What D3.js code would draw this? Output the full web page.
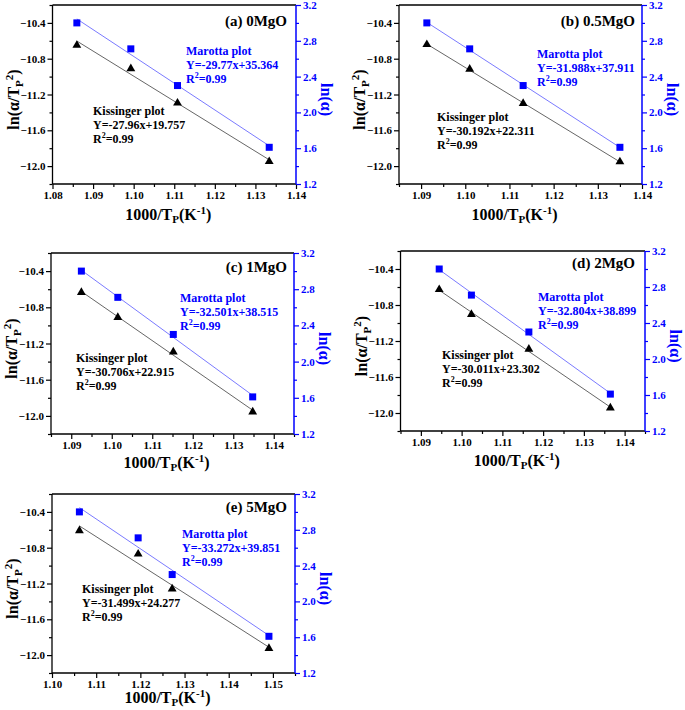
<!DOCTYPE html>
<html>
<head>
<meta charset="utf-8">
<script src="https://cdn.jsdelivr.net/npm/d3@7/dist/d3.min.js"></script>
<style>
  html, body { margin: 0; padding: 0; background: #fff; }
  svg { display: block; }
  text { font-family: "Liberation Serif", "Times New Roman", serif; font-weight: bold; }
</style>
</head>
<body>
<svg id="chart" width="685" height="710"></svg>
<script>
// ---------------- DATA ----------------
const panelLabels = ["(a) 0MgO", "(b) 0.5MgO", "(c) 1MgO", "(d) 2MgO", "(e) 5MgO"];

// 1000/Tp (K^-1) for heating rates 20, 15, 10, 5
const xValues = [
  [1.0860, 1.0993, 1.1108, 1.1334],
  [1.0913, 1.1010, 1.1131, 1.1350],
  [1.0925, 1.1015, 1.1152, 1.1348],
  [1.0945, 1.1024, 1.1165, 1.1365],
  [1.1062, 1.1195, 1.1272, 1.1491]
];

// Kissinger: ln(alpha/Tp^2)  (left axis)
const kissingerY = [
  [-10.650, -10.911, -11.295, -11.949],
  [-10.642, -10.917, -11.300, -11.952],
  [-10.636, -10.912, -11.293, -11.955],
  [-10.628, -10.905, -11.290, -11.944],
  [-10.609, -10.871, -11.260, -11.925]
];

// Marotta: ln(alpha)  (right axis)
const marottaY = [
  [3.00, 2.71, 2.30, 1.61],
  [3.00, 2.71, 2.30, 1.61],
  [3.00, 2.71, 2.30, 1.61],
  [3.00, 2.71, 2.30, 1.61],
  [3.00, 2.71, 2.30, 1.61]
];

const kissingerEq = ["Y=-27.96x+19.757", "Y=-30.192x+22.311", "Y=-30.706x+22.915", "Y=-30.011x+23.302", "Y=-31.499x+24.277"];
const marottaEq   = ["Y=-29.77x+35.364", "Y=-31.988x+37.911", "Y=-32.501x+38.515", "Y=-32.804x+38.899", "Y=-33.272x+39.851"];
const r2Value = "=0.99";

const xDomains = [[1.08, 1.14], [1.085, 1.14], [1.085, 1.145], [1.085, 1.145], [1.10, 1.155]];
const xTickLabels = [
  ["1.08", "1.09", "1.10", "1.11", "1.12", "1.13", "1.14"],
  ["1.09", "1.10", "1.11", "1.12", "1.13", "1.14"],
  ["1.09", "1.10", "1.11", "1.12", "1.13", "1.14"],
  ["1.09", "1.10", "1.11", "1.12", "1.13", "1.14"],
  ["1.10", "1.11", "1.12", "1.13", "1.14", "1.15"]
];
const leftDomain = [-12.2, -10.2];
const leftTickLabels = ["-10.4", "-10.8", "-11.2", "-11.6", "-12.0"];
const rightDomain = [1.2, 3.2];
const rightTickLabels = ["1.2", "1.6", "2.0", "2.4", "2.8", "3.2"];

// ---------------- LAYOUT ----------------
const layout = [
  { x0: 52.5, x1: 296, y0: 5,   y1: 184, title: [9, 21], mar: [133.5, 50], kis: [40.5, 110], xt: 36 },
  { x0: 399,  x1: 642, y0: 5,   y1: 184, title: [7, 21], mar: [138, 53],  kis: [38, 116], xt: 36 },
  { x0: 51,   x1: 294, y0: 253, y1: 434, title: [7, 19], mar: [129, 49],  kis: [25, 109], xt: 34 },
  { x0: 400.5,x1: 645, y0: 251, y1: 431, title: [10, 17], mar: [137.5, 50], kis: [41.5, 108], xt: 35 },
  { x0: 52,   x1: 295, y0: 494, y1: 673, title: [8, 18], mar: [130, 44],  kis: [30, 99], xt: 30 }
];
const BLUE = "#0000ff";
const svg = d3.select("#chart");

function regression(xs, ys) {
  const mx = d3.mean(xs), my = d3.mean(ys);
  let sxy = 0, sxx = 0;
  xs.forEach((x, i) => { sxy += (x - mx) * (ys[i] - my); sxx += (x - mx) * (x - mx); });
  const b = sxy / sxx;
  return { b, a: my - b * mx };
}

function range(a, b, step) {
  const out = [];
  const n = Math.round((b - a) / step);
  for (let i = 0; i <= n; i++) out.push(+(a + i * step).toFixed(4));
  return out;
}

panelLabels.forEach((label, p) => {
  const L = layout[p];
  const g = svg.append("g");
  const x = d3.scaleLinear().domain(xDomains[p]).range([L.x0, L.x1]);
  const yL = d3.scaleLinear().domain(leftDomain).range([L.y1, L.y0]);
  const yR = d3.scaleLinear().domain(rightDomain).range([L.y1, L.y0]);

  const xMajor = xTickLabels[p].map(Number);
  const xMinor = range(xDomains[p][0], xDomains[p][1], 0.005).filter(v => !xMajor.some(m => Math.abs(m - v) < 1e-6));
  const lMajor = leftTickLabels.map(Number);
  const lMinor = range(leftDomain[0], leftDomain[1], 0.2).filter(v => !lMajor.some(m => Math.abs(m - v) < 1e-6));
  const rMajor = rightTickLabels.map(Number);
  const rMinor = range(rightDomain[0], rightDomain[1], 0.2).filter(v => !rMajor.some(m => Math.abs(m - v) < 1e-6));

  // bottom axis
  g.append("g").attr("transform", `translate(0,${L.y1})`)
    .call(d3.axisBottom(x).tickValues(xMajor).tickSize(5).tickSizeOuter(0).tickPadding(2).tickFormat(d3.format(".2f")));
  g.append("g").attr("transform", `translate(0,${L.y1})`)
    .call(d3.axisBottom(x).tickValues(xMinor).tickSize(3).tickSizeOuter(0).tickFormat(""));
  // left axis
  g.append("g").attr("transform", `translate(${L.x0},0)`)
    .call(d3.axisLeft(yL).tickValues(lMajor).tickSize(5).tickSizeOuter(0).tickPadding(2).tickFormat(d3.format(".1f")));
  g.append("g").attr("transform", `translate(${L.x0},0)`)
    .call(d3.axisLeft(yL).tickValues(lMinor).tickSize(3).tickSizeOuter(0).tickFormat(""));
  // right axis
  const gr = g.append("g").attr("transform", `translate(${L.x1},0)`)
    .call(d3.axisRight(yR).tickValues(rMajor).tickSize(5).tickSizeOuter(0).tickPadding(2).tickFormat(d3.format(".1f")));
  const grm = g.append("g").attr("transform", `translate(${L.x1},0)`)
    .call(d3.axisRight(yR).tickValues(rMinor).tickSize(3).tickSizeOuter(0).tickFormat(""));

  g.selectAll(".domain").remove();
  g.selectAll(".tick line").attr("stroke", "#000").attr("stroke-width", 1.2);
  g.selectAll(".tick text").attr("font-size", 11).attr("fill", "#000")
    .style("font-family", "'Liberation Serif', serif").style("font-weight", "bold");
  gr.selectAll(".tick line").attr("stroke", BLUE);
  gr.selectAll(".tick text").attr("fill", BLUE);
  grm.selectAll(".tick line").attr("stroke", BLUE);

  // frame
  g.append("line").attr("x1", L.x0).attr("x2", L.x1).attr("y1", L.y0).attr("y2", L.y0).attr("stroke", "#000").attr("stroke-width", 1.3);
  g.append("line").attr("x1", L.x0).attr("x2", L.x1).attr("y1", L.y1).attr("y2", L.y1).attr("stroke", "#000").attr("stroke-width", 1.3);
  g.append("line").attr("x1", L.x0).attr("x2", L.x0).attr("y1", L.y0).attr("y2", L.y1).attr("stroke", "#000").attr("stroke-width", 1.3);
  g.append("line").attr("x1", L.x1).attr("x2", L.x1).attr("y1", L.y0).attr("y2", L.y1).attr("stroke", BLUE).attr("stroke-width", 1.5);

  // fit lines
  const xs = xValues[p];
  const xExt = d3.extent(xs);
  const fk = regression(xs, kissingerY[p]);
  const fm = regression(xs, marottaY[p]);
  g.append("line")
    .attr("x1", x(xExt[0])).attr("y1", yL(fk.a + fk.b * xExt[0]))
    .attr("x2", x(xExt[1])).attr("y2", yL(fk.a + fk.b * xExt[1]))
    .attr("stroke", "#555").attr("stroke-width", 0.9);
  g.append("line")
    .attr("x1", x(xExt[0])).attr("y1", yR(fm.a + fm.b * xExt[0]))
    .attr("x2", x(xExt[1])).attr("y2", yR(fm.a + fm.b * xExt[1]))
    .attr("stroke", "#6b6bff").attr("stroke-width", 0.9);

  // markers
  const tri = d3.symbol().type(d3.symbolTriangle).size(34);
  g.selectAll(".tri").data(xs.map((v, i) => [v, kissingerY[p][i]])).enter()
    .append("path").attr("d", tri)
    .attr("transform", d => `translate(${x(d[0])},${yL(d[1])})`)
    .attr("fill", "#000");
  g.selectAll(".sq").data(xs.map((v, i) => [v, marottaY[p][i]])).enter()
    .append("rect")
    .attr("x", d => x(d[0]) - 3.5).attr("y", d => yR(d[1]) - 3.5)
    .attr("width", 7).attr("height", 7).attr("fill", BLUE);

  // panel title
  g.append("text").attr("x", L.x1 - L.title[0]).attr("y", L.y0 + L.title[1])
    .attr("text-anchor", "end").attr("font-size", 15).attr("fill", "#000").text(label);

  // annotations
  function block(pos, head, eq, color) {
    const t = g.append("text").attr("font-size", 12).attr("fill", color);
    t.append("tspan").attr("x", L.x0 + pos[0]).attr("y", L.y0 + pos[1]).text(head);
    t.append("tspan").attr("x", L.x0 + pos[0]).attr("y", L.y0 + pos[1] + 14).text(eq);
    const r = g.append("text").attr("font-size", 12).attr("fill", color)
      .attr("x", L.x0 + pos[0]).attr("y", L.y0 + pos[1] + 27.5);
    r.append("tspan").text("R");
    r.append("tspan").attr("font-size", 8).attr("dy", -4.5).text("2");
    r.append("tspan").attr("dy", 4.5).text(r2Value);
  }
  block(L.mar, "Marotta plot", marottaEq[p], BLUE);
  block(L.kis, "Kissinger plot", kissingerEq[p], "#000");

  // axis titles
  const cy = (L.y0 + L.y1) / 2 + 5;
  const cx = (L.x0 + L.x1) / 2;
  const xt = g.append("text").attr("x", cx - 6).attr("y", L.y1 + L.xt)
    .attr("text-anchor", "middle").attr("font-size", 16).attr("fill", "#000");
  xt.append("tspan").text("1000/T");
  xt.append("tspan").attr("font-size", 11).attr("dy", 3).text("P");
  xt.append("tspan").attr("dy", -3).text("(K");
  xt.append("tspan").attr("font-size", 11).attr("dy", -6).text("-1");
  xt.append("tspan").attr("dy", 6).text(")");

  const lt = g.append("text").attr("transform", `translate(${L.x0 - 34},${cy}) rotate(-90)`)
    .attr("text-anchor", "middle").attr("font-size", 16).attr("fill", "#000");
  lt.append("tspan").text("ln(α/T");
  lt.append("tspan").attr("font-size", 11).attr("dy", 4).text("P");
  lt.append("tspan").attr("font-size", 11).attr("dy", -10).text("2");
  lt.append("tspan").attr("dy", 6).text(")");

  g.append("text").attr("transform", `translate(${L.x1 + 25},${cy}) rotate(90)`)
    .attr("text-anchor", "middle").attr("font-size", 16).attr("fill", BLUE).text("ln(α)");
});
</script>
</body>
</html>
